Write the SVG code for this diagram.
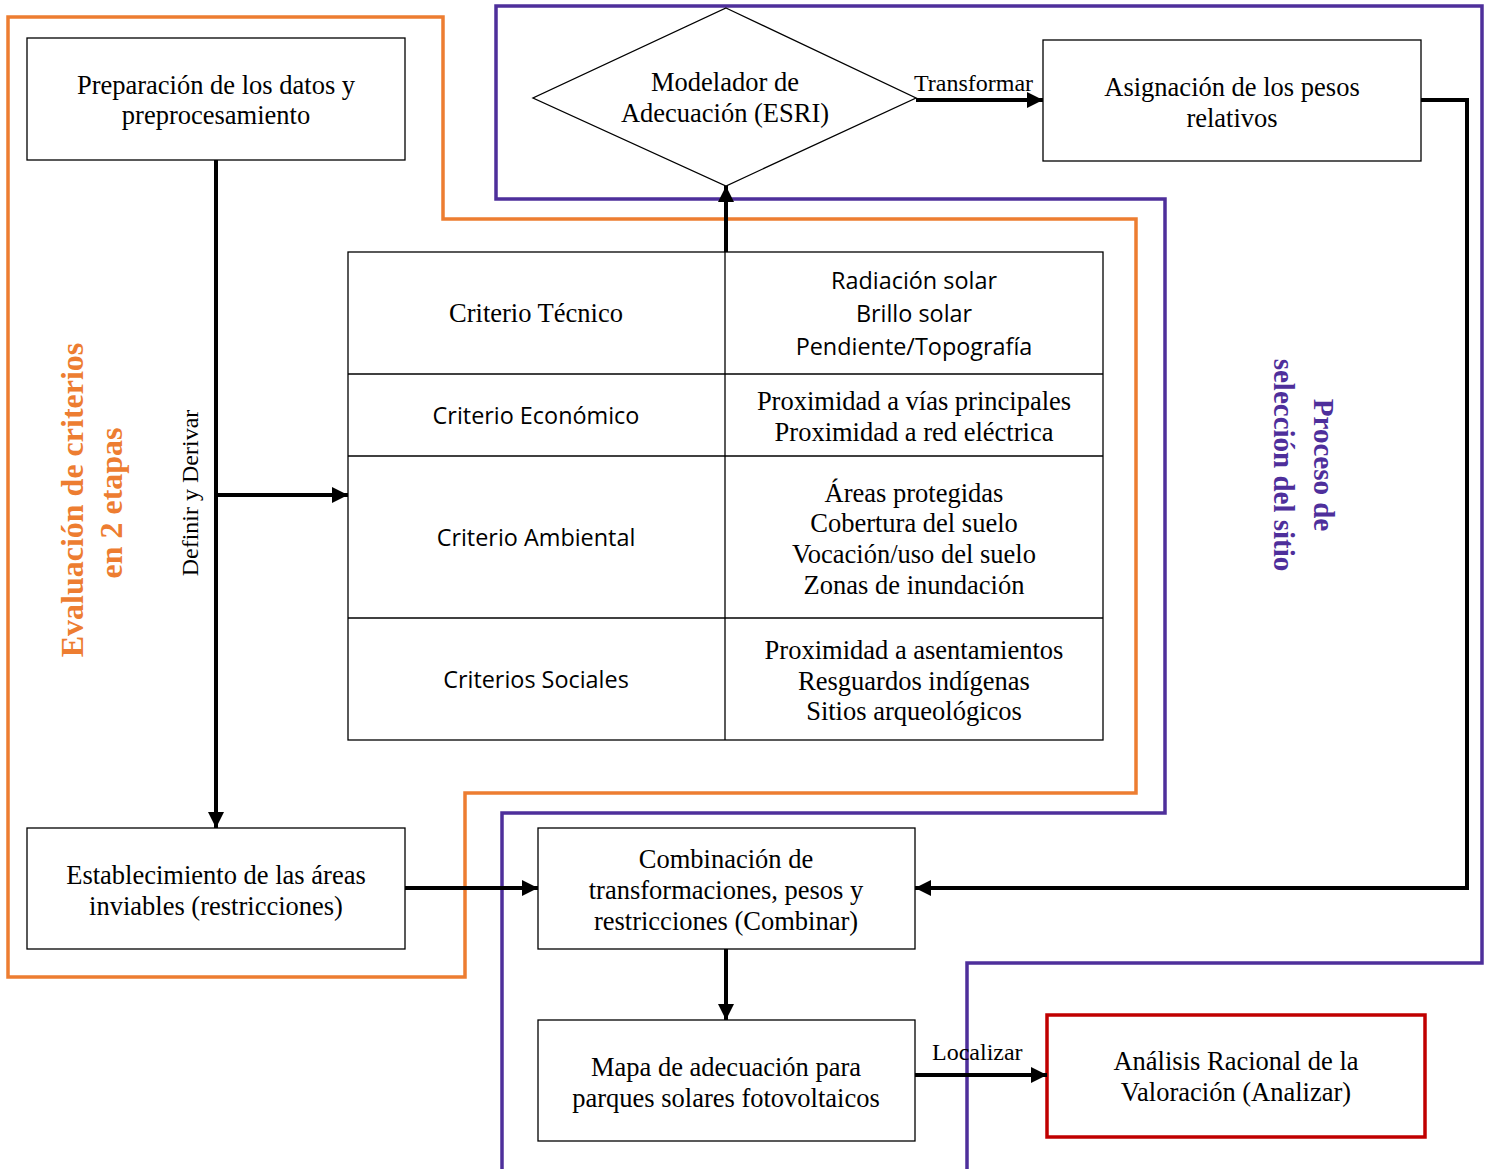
<svg xmlns="http://www.w3.org/2000/svg" width="1489" height="1169" viewBox="0 0 1489 1169">
<defs>
<style>
.frame{fill:none;stroke-width:3.5;stroke-linejoin:miter}
.or{stroke:#ED7D31}
.pu{stroke:#4E2F9B}
.box{fill:#fff;stroke:#000;stroke-width:1.3}
.red{fill:#fff;stroke:#C00000;stroke-width:3.5}
.cell{fill:none;stroke:#000;stroke-width:1.3}
.conn{fill:none;stroke:#000;stroke-width:4}
.t{font-family:"Liberation Serif","Times New Roman",serif;font-size:26.5px;fill:#000;text-anchor:middle}
.s{font-family:"Open Sans","Liberation Sans",sans-serif;font-size:23.4px;fill:#000;text-anchor:middle}
.lbl{font-family:"Liberation Serif","Times New Roman",serif;font-size:24px;fill:#000}
.vo{font-family:"Liberation Serif","Times New Roman",serif;font-size:32px;font-weight:bold;fill:#ED7D31;text-anchor:middle}
.vp{font-family:"Liberation Serif","Times New Roman",serif;font-size:29px;font-weight:bold;fill:#4E2F9B;text-anchor:middle}
</style>
<marker id="ah" markerUnits="userSpaceOnUse" markerWidth="18" markerHeight="18" refX="16" refY="9" orient="auto">
<path d="M0,1 L16,9 L0,17 z" fill="#000"/>
</marker>
</defs>

<g id="frames">
<path class="frame or" d="M8,17 H443 V219 H1136 V793 H465 V977 H8 Z"/>
<path class="frame pu" d="M502,1169 V813 H1165 V199 H496 V6 H1482 V963 H967 V1169"/>
</g>

<g id="frame-labels">
<text class="vo" transform="translate(83,500) rotate(-90)">Evaluación de criterios</text>
<text class="vo" transform="translate(122,503) rotate(-90)">en 2 etapas</text>
<text class="vp" transform="translate(1314,465) rotate(90)">Proceso de</text>
<text class="vp" transform="translate(1274,465) rotate(90)">selección del sitio</text>
</g>

<g id="node-preparacion">
<rect class="box" x="27" y="38" width="378" height="122"/>
<text class="t" x="216" y="94">Preparación de los datos y</text>
<text class="t" x="216" y="124">preprocesamiento</text>
</g>

<g id="node-modelador">
<polygon class="box" points="726,8 916,98 726,186 533,98"/>
<text class="t" x="725" y="91">Modelador de</text>
<text class="t" x="725" y="122">Adecuación (ESRI)</text>
</g>

<g id="node-asignacion">
<rect class="box" x="1043" y="40" width="378" height="121"/>
<text class="t" x="1232" y="96">Asignación de los pesos</text>
<text class="t" x="1232" y="127">relativos</text>
</g>

<g id="node-criterios">
<rect class="cell" x="348" y="252" width="755" height="488" fill="#fff"/>
<line class="cell" x1="725" y1="252" x2="725" y2="740"/>
<line class="cell" x1="348" y1="374" x2="1103" y2="374"/>
<line class="cell" x1="348" y1="456" x2="1103" y2="456"/>
<line class="cell" x1="348" y1="618" x2="1103" y2="618"/>
<text class="t" x="536" y="322">Criterio Técnico</text>
<text class="s" x="914" y="289">Radiación solar</text>
<text class="s" x="914" y="322">Brillo solar</text>
<text class="s" x="914" y="355">Pendiente/Topografía</text>
<text class="s" x="536" y="424">Criterio Económico</text>
<text class="t" x="914" y="410">Proximidad a vías principales</text>
<text class="t" x="914" y="441">Proximidad a red eléctrica</text>
<text class="s" x="536" y="546">Criterio Ambiental</text>
<text class="t" x="914" y="502">Áreas protegidas</text>
<text class="t" x="914" y="532">Cobertura del suelo</text>
<text class="t" x="914" y="563">Vocación/uso del suelo</text>
<text class="t" x="914" y="594">Zonas de inundación</text>
<text class="s" x="536" y="688">Criterios Sociales</text>
<text class="t" x="914" y="659">Proximidad a asentamientos</text>
<text class="t" x="914" y="690">Resguardos indígenas</text>
<text class="t" x="914" y="720">Sitios arqueológicos</text>
</g>

<g id="node-establecimiento">
<rect class="box" x="27" y="828" width="378" height="121"/>
<text class="t" x="216" y="884">Establecimiento de las áreas</text>
<text class="t" x="216" y="915">inviables (restricciones)</text>
</g>

<g id="node-combinacion">
<rect class="box" x="538" y="828" width="377" height="121"/>
<text class="t" x="726" y="868">Combinación de</text>
<text class="t" x="726" y="899">transformaciones, pesos y</text>
<text class="t" x="726" y="930">restricciones (Combinar)</text>
</g>

<g id="node-mapa">
<rect class="box" x="538" y="1020" width="377" height="121"/>
<text class="t" x="726" y="1076">Mapa de adecuación para</text>
<text class="t" x="726" y="1107">parques solares fotovoltaicos</text>
</g>

<g id="node-analisis">
<rect class="red" x="1047" y="1015" width="378" height="122"/>
<text class="t" x="1236" y="1070">Análisis Racional de la</text>
<text class="t" x="1236" y="1101">Valoración (Analizar)</text>
</g>

<g id="connectors">
<path class="conn" d="M216,160 V828" marker-end="url(#ah)"/>
<path class="conn" d="M216,495 H348" marker-end="url(#ah)"/>
<path class="conn" d="M726,252 V186" marker-end="url(#ah)"/>
<path class="conn" d="M916,100 H1043" marker-end="url(#ah)"/>
<path class="conn" d="M1421,100 H1467 V888 H915" marker-end="url(#ah)"/>
<path class="conn" d="M405,888 H538" marker-end="url(#ah)"/>
<path class="conn" d="M726,949 V1020" marker-end="url(#ah)"/>
<path class="conn" d="M915,1075 H1047" marker-end="url(#ah)"/>
<text class="lbl" transform="translate(198,493) rotate(-90)" text-anchor="middle">Definir y Derivar</text>
<text class="lbl" x="914" y="91">Transformar</text>
<text class="lbl" x="932" y="1060">Localizar</text>
</g>
</svg>
